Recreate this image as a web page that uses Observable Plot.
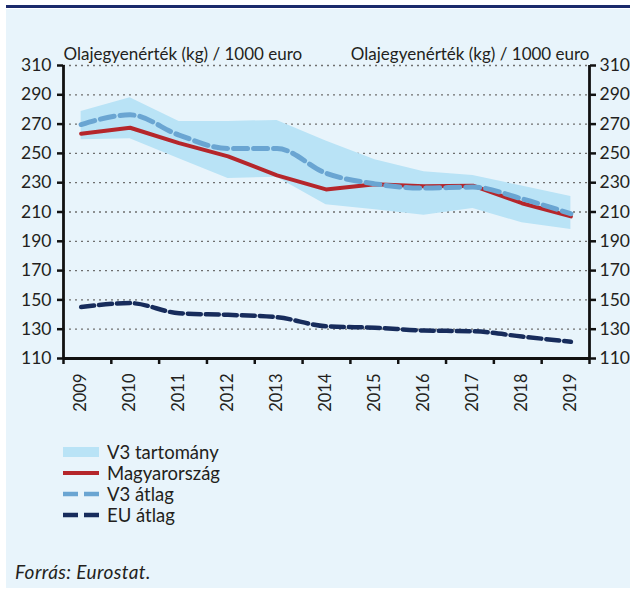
<!DOCTYPE html>
<html><head><meta charset="utf-8">
<script src="https://cdn.jsdelivr.net/npm/d3@7"></script>
<script src="https://cdn.jsdelivr.net/npm/@observablehq/plot@0.6"></script>
<style>
body{margin:0;background:#fff;}
#wrap{position:relative;width:630px;height:590px;overflow:hidden;font-family:Lato,"Open Sans",sans-serif;color:#231f20;}
#bg{position:absolute;left:6px;top:9px;right:0;bottom:2px;background:#e8f4fb;}
#topline{position:absolute;left:6px;right:0;top:5px;height:3px;background:#1b2a6b;}
#chart{position:absolute;left:0;top:0;}
#legend{position:absolute;left:63px;top:441px;}
.row{display:flex;align-items:center;height:21px;font-size:18.5px;}
.row svg{margin-right:8px;display:block}
#caption{position:absolute;left:15px;top:560px;font-style:italic;font-size:19px;letter-spacing:0.4px;}
</style></head>
<body>
<div id="wrap">
  <div id="bg"></div>
  <div id="topline"></div>
  <div id="chart"></div>
  <div id="legend"></div>
  <div id="caption">Forrás: Eurostat.</div>
</div>
<script>
const years    = [2009, 2010, 2011, 2012, 2013, 2014, 2015, 2016, 2017, 2018, 2019];
const hungary  = [263.4, 267.5, 257.0, 248.0, 235.0, 225.4, 229.0, 227.5, 228.0, 216.0, 207.0];
const v3Avg    = [269.7, 276.3, 262.5, 253.3, 253.3, 236.5, 229.2, 226.3, 227.0, 219.0, 208.8];
const v3Min    = [259.3, 260.0, 246.3, 232.8, 233.8, 214.9, 211.5, 207.8, 212.4, 202.7, 198.0];
const v3Max    = [278.6, 288.0, 271.8, 271.8, 272.5, 258.5, 245.6, 237.4, 234.9, 227.7, 220.5];
const euAvg    = [145.1, 147.8, 140.9, 139.8, 138.2, 132.0, 131.0, 129.1, 128.6, 125.0, 121.4];
const yTicks   = [110, 130, 150, 170, 190, 210, 230, 250, 270, 290, 310];
const unitLabel = "Olajegyenérték (kg) / 1000 euro";
const seriesNames = ["V3 tartomány", "Magyarország", "V3 átlag", "EU átlag"];

const C = {area:"#b9e3f6", hu:"#b5262b", v3:"#6aa5d2", eu:"#172c5c", grid:"#6f6f6f", ink:"#231f20"};

const data = years.map((year, i) => ({year, hu: hungary[i], v3: v3Avg[i], lo: v3Min[i], hi: v3Max[i], eu: euAvg[i]}));
const xDomain = [2008.64, 2019.38];
const boundaryTicks = d3.range(12).map(k => xDomain[0] + k * (xDomain[1] - xDomain[0]) / 11);

const chart = Plot.plot({
  width: 630, height: 420,
  marginTop: 65, marginBottom: 62, marginLeft: 63, marginRight: 41,
  style: {fontFamily: "Lato, 'Open Sans', sans-serif", fontSize: "16.5px", color: C.ink, background: "transparent", overflow: "visible"},
  x: {domain: xDomain, label: null},
  y: {domain: [110, 310], label: null},
  marks: [
    Plot.gridY(yTicks.filter(d => d > 110), {stroke: C.grid, strokeOpacity: 1, strokeWidth: 1.3, strokeDasharray: "2,4"}),
    Plot.areaY(data, {x: "year", y1: "lo", y2: "hi", fill: C.area}),
    Plot.line(data, {x: "year", y: "eu", stroke: C.eu, strokeWidth: 4.5, strokeDasharray: "13,5", curve: "monotone-x"}),
    Plot.line(data, {x: "year", y: "hu", stroke: C.hu, strokeWidth: 4}),
    Plot.line(data, {x: "year", y: "v3", stroke: C.v3, strokeWidth: 5, strokeDasharray: "14,6", curve: "monotone-x"}),
    Plot.ruleY([110], {stroke: "#111", strokeWidth: 2.8}),
    Plot.ruleX(xDomain, {y1: 110, y2: 310, stroke: "#111", strokeWidth: 2.8}),
    Plot.axisY({anchor: "left", ticks: yTicks, tickSize: 6, tickPadding: 6, strokeWidth: 2.5, stroke: "#111", fontSize: 17.5}),
    Plot.axisY({anchor: "right", ticks: yTicks, tickSize: 6, tickPadding: 4, strokeWidth: 2.5, stroke: "#111", fontSize: 17.5}),
    Plot.axisX({ticks: boundaryTicks, tickSize: 6, tickFormat: () => "", strokeWidth: 2.5, stroke: "#111"}),
    Plot.axisX({ticks: years, tickSize: 0, tickPadding: 15, tickRotate: -90, tickFormat: d => String(d), fontSize: 16.5}),
    Plot.text([unitLabel], {frameAnchor: "top-left", dy: -18, textAnchor: "start", fontSize: 17, fill: C.ink}),
    Plot.text([unitLabel], {frameAnchor: "top-right", dy: -18, textAnchor: "end", fontSize: 17, fill: C.ink})
  ]
});
document.getElementById("chart").appendChild(chart);

// legend
const legendSwatches = [
  `<svg width="36" height="12"><rect x="0" y="1" width="36" height="10" fill="${C.area}"/></svg>`,
  `<svg width="36" height="12"><line x1="0" x2="36" y1="6" y2="6" stroke="${C.hu}" stroke-width="4"/></svg>`,
  `<svg width="36" height="12"><line x1="0" x2="36" y1="6" y2="6" stroke="${C.v3}" stroke-width="4.5" stroke-dasharray="15,6"/></svg>`,
  `<svg width="36" height="12"><line x1="0" x2="36" y1="6" y2="6" stroke="${C.eu}" stroke-width="4.5" stroke-dasharray="15,6"/></svg>`
];
const legend = document.getElementById("legend");
seriesNames.forEach((name, i) => {
  const row = document.createElement("div");
  row.className = "row";
  row.innerHTML = legendSwatches[i];
  const span = document.createElement("span");
  span.textContent = name;
  row.appendChild(span);
  legend.appendChild(row);
});
</script>
</body></html>
